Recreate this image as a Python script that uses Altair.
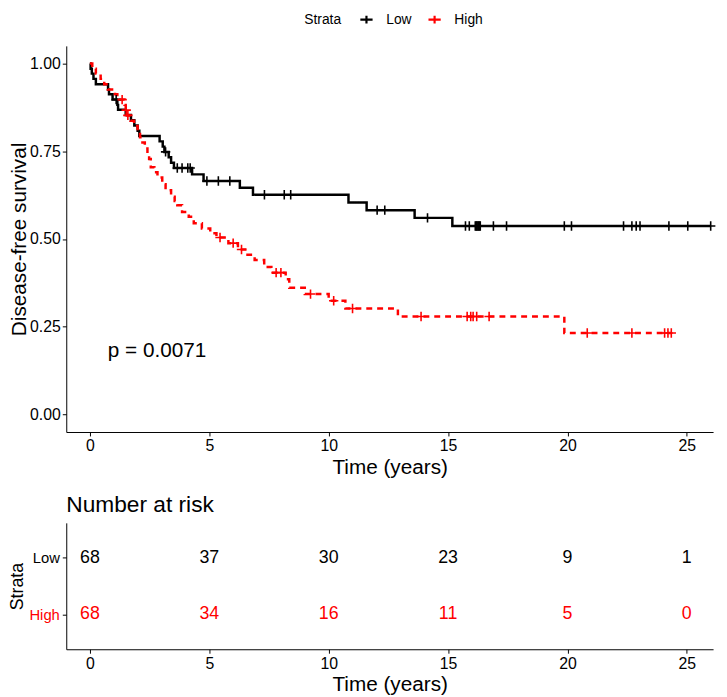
import altair as alt
import pandas as pd

FONT = "Liberation Sans"
strata = ["Low", "High"]
colors = ["#000000", "#FF0000"]

# Kaplan-Meier step curves (time in years, survival after the step)
low_t = [0, 0.03, 0.08, 0.15, 0.25, 0.76, 0.80, 0.95, 1.15, 1.18, 1.5, 1.72, 1.86, 2.0, 2.07,
         2.92, 3.05, 3.12, 3.3, 3.4, 3.52, 4.28, 4.76, 6.28, 6.83, 10.83, 11.59, 13.6, 15.18, 26.0]
low_s = [1.0, 0.985, 0.971, 0.956, 0.941, 0.926, 0.912, 0.897, 0.882, 0.868, 0.853, 0.838, 0.823, 0.808, 0.793,
         0.778, 0.763, 0.748, 0.733, 0.717, 0.702, 0.684, 0.665, 0.646, 0.626, 0.604, 0.582, 0.560, 0.537, 0.537]
low_cens = [1.1, 3.17, 3.66, 3.86, 4.1, 4.2, 4.9, 5.38, 5.86, 7.31, 8.14, 8.41, 12.03, 12.35, 14.14,
            15.73, 15.89, 16.14, 16.18, 16.21, 16.25, 16.28, 16.32, 16.35, 16.9, 17.45, 19.87, 20.17,
            22.35, 22.7, 22.88, 23.04, 24.25, 25.04, 26.0]

high_t = [0, 0.1, 0.25, 0.45, 0.6, 0.75, 1.05, 1.15, 1.45, 1.5, 1.55, 1.7, 1.85, 2.0, 2.1, 2.2, 2.3,
          2.41, 2.48, 2.55, 2.7, 2.83, 3.03, 3.17, 3.4, 3.55, 3.66, 3.86, 4.14, 4.35, 4.69, 5.04, 5.3,
          5.8, 6.2, 6.6, 6.9, 7.3, 7.6, 8.2, 8.35, 9.0, 10.0, 10.7, 12.9, 19.87, 24.35]
high_s = [1.0, 0.985, 0.971, 0.956, 0.941, 0.926, 0.912, 0.897, 0.882, 0.867, 0.852, 0.837, 0.822, 0.807,
          0.79, 0.775, 0.758, 0.742, 0.728, 0.704, 0.69, 0.675, 0.656, 0.639, 0.62, 0.608, 0.596, 0.577,
          0.563, 0.545, 0.53, 0.516, 0.504, 0.488, 0.47, 0.455, 0.44, 0.42, 0.404, 0.385, 0.361, 0.343,
          0.324, 0.302, 0.279, 0.232, 0.232]
high_cens = [1.35, 1.52, 1.59, 5.45, 6.0, 6.35, 7.8, 8.0, 9.24, 10.21, 11.0, 13.87, 15.8, 15.95, 16.05,
             16.2, 16.72, 20.83, 22.7, 24.07, 24.21, 24.35]

# Number at risk table
risk_times = [0, 5, 10, 15, 20, 25]
risk_low = [68, 37, 30, 23, 9, 1]
risk_high = [68, 34, 16, 11, 5, 0]

p_label = "p = 0.0071"
p_time = 0.75
p_surv = 0.18

x_ticks = [0, 5, 10, 15, 20, 25]
y_ticks = [0, 0.25, 0.5, 0.75, 1.0]


def step_value(ts, ss, t):
    v = ss[0]
    for ti, si in zip(ts, ss):
        if ti <= t:
            v = si
    return v


curve_rows, cens_rows = [], []
for name, ts, ss, cs in [("Low", low_t, low_s, low_cens), ("High", high_t, high_s, high_cens)]:
    for ti, si in zip(ts, ss):
        curve_rows.append({"time": ti, "surv": si, "strata": name})
    for c in cs:
        cens_rows.append({"time": c, "surv": step_value(ts, ss, c), "strata": name})
curves = pd.DataFrame(curve_rows)
cens = pd.DataFrame(cens_rows)

risk_rows = []
for t, a, b in zip(risk_times, risk_low, risk_high):
    risk_rows.append({"time": t, "strata": "Low", "n": a})
    risk_rows.append({"time": t, "strata": "High", "n": b})
risk = pd.DataFrame(risk_rows)

W = 655
xscale = alt.Scale(domain=[-0.99, 26.1], nice=False, zero=False)
yscale = alt.Scale(domain=[-0.05, 1.05], nice=False, zero=False)
cscale = alt.Scale(domain=strata, range=colors)

axis_common = dict(grid=False, domainColor="black", tickColor="black", labelColor="black",
                   titleColor="black", tickSize=4, titleFontWeight="normal", labelFont=FONT, titleFont=FONT)

xaxis = alt.Axis(values=x_ticks, labelPadding=2, titlePadding=3, labelFontSize=16, titleFontSize=21, **axis_common)
yaxis = alt.Axis(values=y_ticks, format=".2f", labelPadding=2, titlePadding=0, labelFontSize=16,
                 titleFontSize=21, **axis_common)

X = alt.X("time:Q", scale=xscale, axis=xaxis, title="Time (years)")
Y = alt.Y("surv:Q", scale=yscale, axis=yaxis, title="Disease-free survival")

legend = alt.Legend(orient="none", legendX=241, legendY=-34, direction="horizontal",
                    titleOrient="left", symbolType="M-1.6,0L1.6,0M0,-1L0,1",
                    symbolSize=60, symbolStrokeWidth=2.2, titleFontSize=14,
                    labelFontSize=14, titleFontWeight="normal", titleFont=FONT,
                    labelFont=FONT, titleColor="black", labelColor="black",
                    labelOffset=13, columnPadding=12, titlePadding=18)

lines = alt.Chart(curves).mark_line(interpolate="step-after", strokeWidth=2.5).encode(
    x=X, y=Y,
    color=alt.Color("strata:N", scale=cscale, title="Strata", legend=legend),
    strokeDash=alt.StrokeDash("strata:N", scale=alt.Scale(domain=strata, range=[[1, 0], [6, 5]]), legend=None),
)

plus = "M-1,0L1,0M0,-1L0,1"
points = alt.Chart(cens).mark_point(shape=plus, filled=False, size=90, strokeWidth=1.6, opacity=1).encode(
    x=X, y=Y,
    color=alt.Color("strata:N", scale=cscale, title="Strata", legend=legend),
)

ptext = alt.Chart(pd.DataFrame({"time": [p_time], "surv": [p_surv], "label": [p_label]})).mark_text(
    align="left", baseline="middle", fontSize=21, font=FONT, color="black"
).encode(x=X, y=Y, text="label:N")

main = alt.layer(lines, points, ptext).properties(width=W, height=391)

xaxis2 = alt.Axis(values=x_ticks, labelPadding=2, titlePadding=3, labelFontSize=16, titleFontSize=21, **axis_common)
yaxis2 = alt.Axis(labelPadding=3, titlePadding=2, labelFontSize=15, titleFontSize=18,
                  **{**axis_common, "labelColor": alt.condition("datum.value == 'High'", alt.value("#FF0000"), alt.value("black"))})

table = alt.Chart(risk).mark_text(fontSize=18, font=FONT).encode(
    x=alt.X("time:Q", scale=xscale, axis=xaxis2, title="Time (years)"),
    y=alt.Y("strata:N", scale=alt.Scale(type="point", domain=strata, padding=0.62), axis=yaxis2, title="Strata"),
    color=alt.Color("strata:N", scale=cscale, legend=None),
    text="n:Q",
).properties(width=W, height=128,
             title=alt.TitleParams("Number at risk", anchor="start", frame="group", fontSize=23,
                                   fontWeight="normal", font=FONT, color="black", offset=6))

chart = alt.vconcat(main, table, spacing=17).resolve_scale(color="independent").properties(
    padding={"left": 0, "top": 0, "right": 0, "bottom": 0}
).configure(font=FONT).configure_view(stroke=None)

chart.save("out.html", embed_options={"renderer": "svg", "actions": False})
